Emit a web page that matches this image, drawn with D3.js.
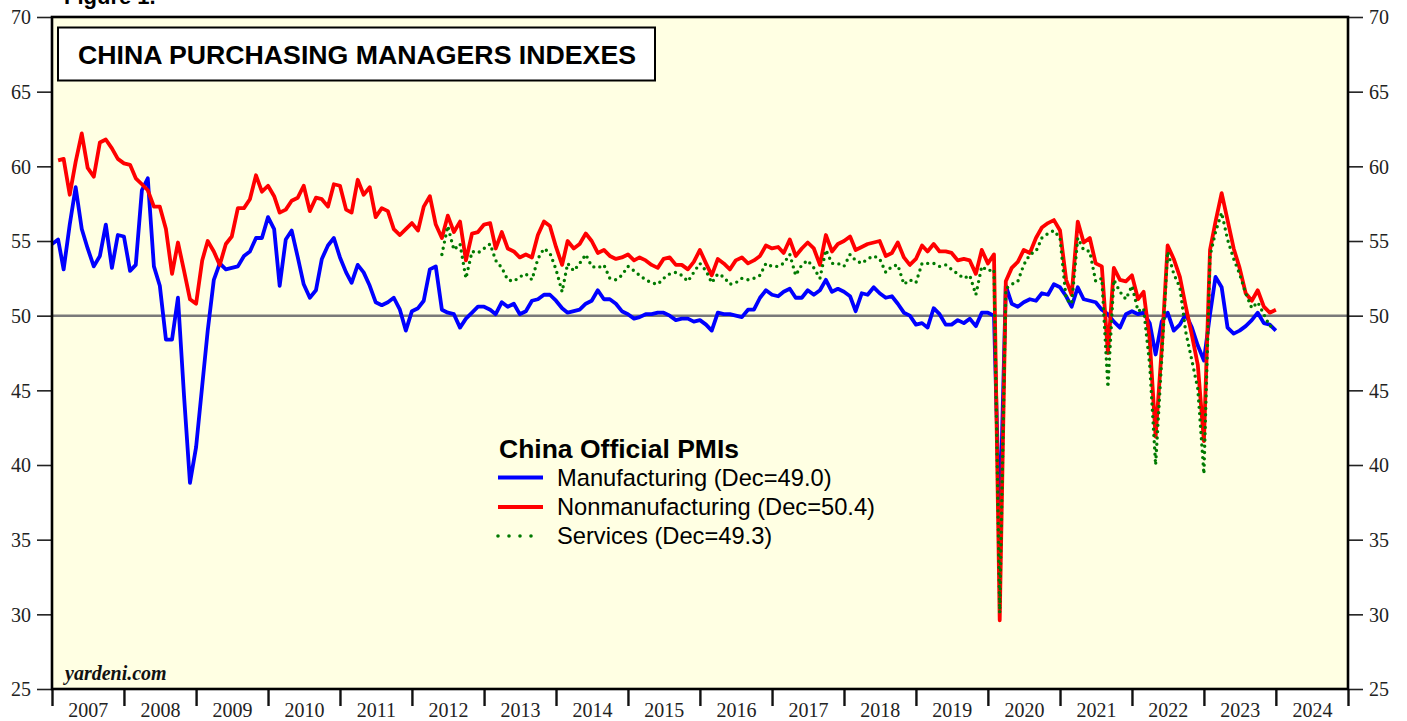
<!DOCTYPE html>
<html><head><meta charset="utf-8">
<script src="https://cdn.jsdelivr.net/npm/d3@7"></script>
<style>
html,body{margin:0;padding:0;background:#fff;}
svg{display:block;}
</style></head>
<body><svg id="chart" width="1407" height="721"></svg>
<script>
// ---------- DATA ----------
const yearLabels = ["2007","2008","2009","2010","2011","2012","2013","2014","2015","2016","2017","2018","2019","2020","2021","2022","2023","2024"];
const yTicks = [25,30,35,40,45,50,55,60,65,70];

// Manufacturing PMI, monthly from Dec 2006 to Dec 2023
const manufacturingStart = [2006, 11];
const manufacturing = [54.8,
 55.1,53.1,56.1,58.6,55.8,54.5,53.3,54.0,56.1,53.2,55.4,55.3,
 53.0,53.4,58.4,59.2,53.3,52.0,48.4,48.4,51.2,44.6,38.8,41.2,
 45.3,49.0,52.4,53.5,53.1,53.2,53.3,54.0,54.3,55.2,55.2,56.6,
 55.8,52.0,55.1,55.7,53.9,52.1,51.2,51.7,53.8,54.7,55.2,53.9,
 52.9,52.2,53.4,52.9,52.0,50.9,50.7,50.9,51.2,50.4,49.0,50.3,
 50.5,51.0,53.1,53.3,50.4,50.2,50.1,49.2,49.8,50.2,50.6,50.6,
 50.4,50.1,50.9,50.6,50.8,50.1,50.3,51.0,51.1,51.4,51.4,51.0,
 50.5,50.2,50.3,50.4,50.8,51.0,51.7,51.1,51.1,50.8,50.3,50.1,
 49.8,49.9,50.1,50.1,50.2,50.2,50.0,49.7,49.8,49.8,49.6,49.7,
 49.4,49.0,50.2,50.1,50.1,50.0,49.9,50.4,50.4,51.2,51.7,51.4,
 51.3,51.6,51.8,51.2,51.2,51.7,51.4,51.7,52.4,51.6,51.8,51.6,
 51.3,50.3,51.5,51.4,51.9,51.5,51.2,51.3,50.8,50.2,50.0,49.4,
 49.5,49.2,50.5,50.1,49.4,49.4,49.7,49.5,49.8,49.3,50.2,50.2,
 50.0,35.7,52.0,50.8,50.6,50.9,51.1,51.0,51.5,51.4,52.1,51.9,
 51.3,50.6,51.9,51.1,51.0,50.9,50.4,50.1,49.6,49.2,50.1,50.3,
 50.1,50.2,49.5,47.4,49.6,50.2,49.0,49.4,50.1,49.2,48.0,47.0,
 50.1,52.6,51.9,49.2,48.8,49.0,49.3,49.7,50.2,49.5,49.4,49.0];

// Nonmanufacturing PMI, monthly from Jan 2007 to Dec 2023
const nonmanufacturingStart = [2007, 0];
const nonmanufacturing = [
 60.4,60.5,58.1,60.3,62.2,59.9,59.3,61.6,61.8,61.2,60.5,60.2,
 60.1,59.2,58.8,58.4,57.3,57.3,55.8,52.8,54.9,53.0,51.1,50.8,
 53.7,55.0,54.3,53.4,54.8,55.3,57.2,57.2,57.8,59.4,58.3,58.7,
 58.0,56.9,57.1,57.7,57.9,58.7,57.0,57.9,57.8,57.3,58.8,58.7,
 57.1,56.9,59.1,58.1,58.6,56.6,57.2,57.0,55.8,55.4,55.8,56.2,
 55.7,57.3,58.0,56.1,55.2,56.7,55.6,56.3,53.7,55.5,55.6,56.1,
 56.2,54.5,55.6,54.5,54.3,53.9,54.1,53.9,55.4,56.3,56.0,54.6,
 53.4,55.0,54.5,54.8,55.5,55.0,54.2,54.4,54.0,53.8,53.9,54.1,
 53.7,53.9,53.7,53.4,53.2,53.8,53.9,53.4,53.4,53.1,53.6,54.4,
 53.5,52.7,53.8,53.5,53.1,53.7,53.9,53.5,53.7,54.0,54.7,54.5,
 54.6,54.2,55.1,54.0,54.5,54.9,54.5,53.4,55.4,54.3,54.8,55.0,
 55.3,54.4,54.6,54.8,54.9,55.0,54.0,54.2,54.9,53.9,53.4,53.8,
 54.7,54.3,54.8,54.3,54.3,54.2,53.7,53.8,53.7,52.8,54.4,53.5,
 54.1,29.6,52.3,53.2,53.6,54.4,54.2,55.2,55.9,56.2,56.4,55.7,
 52.4,51.4,56.3,54.9,55.2,53.5,53.3,47.5,53.2,52.4,52.3,52.7,
 51.1,51.6,48.4,41.9,47.8,54.7,53.8,52.6,50.6,48.7,46.7,41.6,
 54.4,56.3,58.2,56.4,54.5,53.2,51.5,51.0,51.7,50.6,50.2,50.4];

// Services PMI, monthly from May 2012 to Dec 2023
const servicesStart = [2012, 4];
const services = [
 54.1,56.0,54.4,54.8,52.5,54.3,54.2,54.5,
 54.8,53.7,53.2,52.4,52.3,52.6,52.8,52.4,53.8,54.5,54.2,53.1,
 51.6,53.5,53.0,53.5,54.1,53.3,53.2,53.4,52.5,52.4,52.7,53.3,
 53.0,52.7,52.4,52.2,52.1,52.5,52.8,52.9,52.7,52.3,52.9,53.5,
 53.0,52.2,52.8,52.6,52.1,52.2,52.5,52.4,52.5,52.7,53.5,53.3,
 53.3,53.5,54.1,52.7,53.4,53.7,53.2,52.5,54.4,53.5,53.5,53.3,
 54.1,53.7,53.5,53.8,54.0,53.8,52.9,53.3,53.4,52.1,52.4,52.2,
 53.5,53.5,53.5,53.3,53.4,53.1,52.8,52.5,52.7,51.4,53.3,53.0,
 53.1,30.1,51.8,52.1,52.3,53.4,54.1,54.3,55.2,55.5,55.7,55.2,
 51.1,50.8,55.2,54.4,54.3,52.3,52.5,45.2,52.4,51.6,51.1,52.0,
 50.3,50.5,46.7,40.0,47.1,54.3,52.8,51.9,48.9,47.0,45.1,39.4,
 54.0,55.6,56.9,55.1,53.8,52.8,51.5,50.5,50.9,50.1,49.3,49.3];

const legendTitle = "China Official PMIs";
const seriesNames = ["Manufacturing (Dec=49.0)","Nonmanufacturing (Dec=50.4)","Services (Dec=49.3)"];
const chartTitle = "CHINA PURCHASING MANAGERS INDEXES";

// ---------- DRAW ----------
const svg = d3.select("#chart");
const L = 52, R = 1348, T = 17, B = 689;
const serif = "'Liberation Serif','Times New Roman',serif";
const sans = "'Liberation Sans',Arial,Helvetica,sans-serif";

const x = d3.scaleTime().domain([new Date(2007,0,1), new Date(2025,0,1)]).range([L, R]);
const y = d3.scaleLinear().domain([25,70]).range([B, T]);

function toPoints(start, arr){
  return arr.map((v,i)=>({date:new Date(start[0], start[1]+i+1, 1), v}));
}

// figure label (cut at top, as in the source)
svg.append("text").attr("x",64).attr("y",4).attr("font-family",sans).attr("font-weight","bold")
  .attr("font-size",22).text("Figure 1.");

// plot background
svg.append("rect").attr("x",L).attr("y",T).attr("width",R-L).attr("height",B-T)
  .attr("fill","#FFFFE3");

// reference line at 50
svg.append("line").attr("x1",L).attr("x2",R).attr("y1",y(50)).attr("y2",y(50))
  .attr("stroke","#7a7a7a").attr("stroke-width",2.5);

// axes
const leftAxis = d3.axisLeft(y).tickValues(yTicks).tickSize(15).tickSizeOuter(0).tickPadding(6).tickFormat(d3.format("d"));
const gl = svg.append("g").attr("transform",`translate(${L},0)`).call(leftAxis);
const rightAxis = d3.axisRight(y).tickValues(yTicks).tickSize(15).tickSizeOuter(0).tickPadding(6).tickFormat(d3.format("d"));
const gr = svg.append("g").attr("transform",`translate(${R},0)`).call(rightAxis);
[gl,gr].forEach(g=>{
  g.select(".domain").remove();
  g.selectAll(".tick line").attr("stroke","#222").attr("stroke-width",1.6);
  g.selectAll(".tick text").attr("font-family",serif).attr("font-size",20).attr("fill","#222").attr("dy","0.34em");
});

const yearTicks = d3.range(2007,2026).map(yr=>new Date(yr,0,1));
const gb = svg.append("g").attr("transform",`translate(0,${B})`)
  .call(d3.axisBottom(x).tickValues(yearTicks).tickSize(17).tickSizeOuter(0).tickFormat(""));
gb.select(".domain").remove();
gb.selectAll(".tick line").attr("stroke","#111").attr("stroke-width",2.4);

const midYears = yearLabels.map(s=>new Date(+s,6,2));
const gb2 = svg.append("g").attr("transform",`translate(0,${B})`)
  .call(d3.axisBottom(x).tickValues(midYears).tickSize(0).tickPadding(14).tickFormat((d,i)=>yearLabels[i]));
gb2.select(".domain").remove();
gb2.selectAll(".tick text").attr("font-family",serif).attr("font-size",20).attr("fill","#222");

// clip
svg.append("clipPath").attr("id","plotclip").append("rect")
  .attr("x",L).attr("y",T).attr("width",R-L).attr("height",B-T);

const line = d3.line().x(d=>x(d.date)).y(d=>y(d.v));
const plot = svg.append("g").attr("clip-path","url(#plotclip)");

plot.append("path").datum(toPoints(manufacturingStart, manufacturing)).attr("d",line)
  .attr("fill","none").attr("stroke","#0000FF").attr("stroke-width",3.8).attr("stroke-linejoin","round");
plot.append("path").datum(toPoints(nonmanufacturingStart, nonmanufacturing)).attr("d",line)
  .attr("fill","none").attr("stroke","#FF0000").attr("stroke-width",3.8).attr("stroke-linejoin","round");
plot.append("path").datum(toPoints(servicesStart, services)).attr("d",line)
  .attr("fill","none").attr("stroke","#007A00").attr("stroke-width",3.4)
  .attr("stroke-dasharray","0 6.3").attr("stroke-linecap","round").attr("stroke-linejoin","round");

// plot border
svg.append("rect").attr("x",L).attr("y",T).attr("width",R-L).attr("height",B-T)
  .attr("fill","none").attr("stroke","#000").attr("stroke-width",2.6);

// title box
svg.append("rect").attr("x",58).attr("y",27.5).attr("width",597).attr("height",53)
  .attr("fill","#fff").attr("stroke","#000").attr("stroke-width",2);
svg.append("text").attr("x",78).attr("y",64).attr("font-family",sans).attr("font-weight","bold")
  .attr("font-size",26.7).attr("fill","#000").text(chartTitle);

// watermark
svg.append("text").attr("x",65).attr("y",680).attr("font-family",serif).attr("font-weight","bold")
  .attr("font-style","italic").attr("font-size",20).attr("fill","#111").text("yardeni.com");

// legend
const lg = svg.append("g");
lg.append("text").attr("x",499).attr("y",458).attr("font-family",sans).attr("font-weight","bold")
  .attr("font-size",26.5).attr("fill","#000").text(legendTitle);
const legColors = ["#0000FF","#FF0000","#007A00"];
const legY = [477.5,507,536];
const legBase = [485.5,515,544];
seriesNames.forEach((name,i)=>{
  const ln = lg.append("line").attr("x1",498).attr("x2", i===2?532:543).attr("y1",legY[i]).attr("y2",legY[i])
    .attr("stroke",legColors[i]).attr("stroke-width",4);
  if(i===2) ln.attr("stroke-dasharray","0 11").attr("stroke-linecap","round").attr("stroke-width",3.6);
  lg.append("text").attr("x",557).attr("y",legBase[i]).attr("font-family",sans)
    .attr("font-size",23.7).attr("fill","#000").text(name);
});
</script>
</body></html>
